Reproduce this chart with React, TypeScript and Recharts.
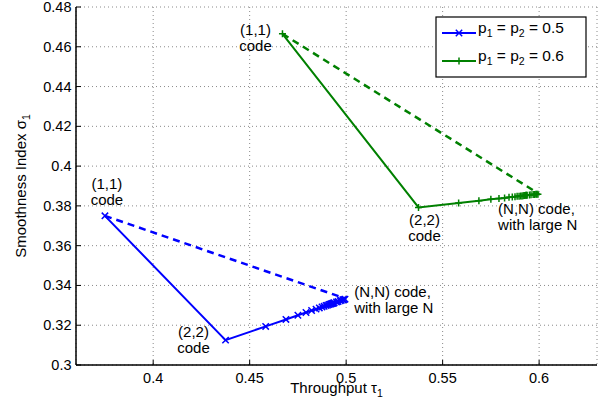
import React from 'react';
import { ScatterChart, Scatter, XAxis, YAxis, CartesianGrid, ReferenceDot, Label } from 'recharts';

// Code length N for each plotted point
const codeN = [1, 2, 3, 4, 5, 6, 7, 8, 9, 10, 11, 12, 13, 14, 15, 16, 17, 18, 19, 20, 25, 30, 40, 50, 75, 100, 200];

// p1 = p2 = 0.5
const blueTau = [0.375, 0.4375, 0.4583, 0.4688, 0.475, 0.4792, 0.4821, 0.4844, 0.4861, 0.4875, 0.4886, 0.4896, 0.4904, 0.4911, 0.4917, 0.4922, 0.4926, 0.4931, 0.4934, 0.4938, 0.495, 0.4958, 0.4969, 0.4975, 0.4983, 0.4988, 0.4994];
const blueSigma = [0.375, 0.3125, 0.3194, 0.3229, 0.325, 0.3264, 0.3274, 0.3281, 0.3287, 0.3292, 0.3295, 0.3299, 0.3301, 0.3304, 0.3306, 0.3307, 0.3309, 0.331, 0.3311, 0.3313, 0.3317, 0.3319, 0.3323, 0.3325, 0.3328, 0.3329, 0.3331];

// p1 = p2 = 0.6
const greenTau = [0.467, 0.5375, 0.5583, 0.5688, 0.575, 0.5792, 0.5821, 0.5844, 0.5861, 0.5875, 0.5886, 0.5896, 0.5904, 0.5911, 0.5917, 0.5922, 0.5926, 0.5931, 0.5934, 0.5938, 0.595, 0.5958, 0.5969, 0.5975, 0.5983, 0.5988, 0.5994];
const greenSigma = [0.4665, 0.3792, 0.3815, 0.3826, 0.3833, 0.3837, 0.384, 0.3843, 0.3845, 0.3846, 0.3848, 0.3849, 0.385, 0.385, 0.3851, 0.3852, 0.3852, 0.3853, 0.3853, 0.3853, 0.3855, 0.3856, 0.3857, 0.3857, 0.3858, 0.3859, 0.3859];

// (1,1) code and large-N limit, joined by the dashed lines
const blueDashTau = [0.375, 0.5];
const blueDashSigma = [0.375, 0.3333];
const greenDashTau = [0.467, 0.6];
const greenDashSigma = [0.4665, 0.386];

const xTicks = [0.4, 0.45, 0.5, 0.55, 0.6];
const yTicks = [0.3, 0.32, 0.34, 0.36, 0.38, 0.4, 0.42, 0.44, 0.46, 0.48];
const xDomain = [0.36, 0.63];
const yDomain = [0.3, 0.48];

const legendLabels = [['p', '1', ' = p', '2', ' = 0.5'], ['p', '1', ' = p', '2', ' = 0.6']];

const zip = (xs: number[], ys: number[]) => xs.map((x, i) => ({ x, y: ys[i] }));
const blueData = codeN.map((n, i) => ({ n, x: blueTau[i], y: blueSigma[i] }));
const greenData = codeN.map((n, i) => ({ n, x: greenTau[i], y: greenSigma[i] }));
const blueDash = zip(blueDashTau, blueDashSigma);
const greenDash = zip(greenDashTau, greenDashSigma);

const BLUE = '#0000ff';
const GREEN = '#008000';
const FONT = '"Liberation Sans", Arial, Helvetica, sans-serif';
const TICK_FS = 14.5;
const ANN_FS = 15;

const XMarker = (props: any) => {
  const { cx, cy } = props;
  const s = 3.2;
  return <path d={`M${cx - s},${cy - s}L${cx + s},${cy + s}M${cx - s},${cy + s}L${cx + s},${cy - s}`} stroke={BLUE} strokeWidth={1.5} fill="none" />;
};
const PlusMarker = (props: any) => {
  const { cx, cy } = props;
  const s = 3.5;
  return <path d={`M${cx - s},${cy}L${cx + s},${cy}M${cx},${cy - s}L${cx},${cy + s}`} stroke={GREEN} strokeWidth={1.5} fill="none" />;
};
const NoMarker = () => <g />;

const BottomTick = (props: any) => {
  const { x, y, payload } = props;
  return (
    <g>
      <line x1={x} y1={y} x2={x} y2={y - 5} stroke="#000" strokeWidth={1} />
      <text x={x} y={y + 18} textAnchor="middle" fontSize={TICK_FS} fontFamily={FONT} fill="#000">{payload.value}</text>
    </g>
  );
};
const LeftTick = (props: any) => {
  const { x, y, payload } = props;
  return (
    <g>
      <line x1={x} y1={y} x2={x + 5} y2={y} stroke="#000" strokeWidth={1} />
      <text x={x - 4.5} y={y + 5} textAnchor="end" fontSize={TICK_FS} fontFamily={FONT} fill="#000">{payload.value}</text>
    </g>
  );
};
const TopTick = (props: any) => {
  const { x, y } = props;
  return <line x1={x} y1={y} x2={x} y2={y + 5} stroke="#000" strokeWidth={1} />;
};
const RightTick = (props: any) => {
  const { x, y } = props;
  return <line x1={x} y1={y} x2={x - 5} y2={y} stroke="#000" strokeWidth={1} />;
};

const annotation = (lines: string[], dx: number, dy: number, anchor: string) => (props: any) => {
  const { cx, cy } = props;
  return (
    <g>
      {lines.map((t, i) => (
        <text key={i} x={cx + dx} y={cy + dy + i * 16} textAnchor={anchor} fontSize={ANN_FS} fontFamily={FONT} fill="#000">{t}</text>
      ))}
    </g>
  );
};

const Legend = () => (
  <svg width={152} height={62} style={{ position: 'absolute', left: 435, top: 16 }}>
    <rect x={1} y={1} width={150} height={60} fill="#fff" stroke="#000" strokeWidth={1.2} />
    {legendLabels.map((parts, i) => {
      const y = 17 + i * 28;
      const color = i === 0 ? BLUE : GREEN;
      return (
        <g key={i}>
          <line x1={7} y1={y} x2={41} y2={y} stroke={color} strokeWidth={2} />
          {i === 0 ? <XMarker cx={24} cy={y} /> : <PlusMarker cx={24} cy={y} />}
          <text x={43} y={y} fontSize={15.5} fontFamily={FONT} fill="#000">
            <tspan>{parts[0]}</tspan>
            <tspan dy={4} fontSize={10.5}>{parts[1]}</tspan>
            <tspan dy={-4}>{parts[2]}</tspan>
            <tspan dy={4} fontSize={10.5}>{parts[3]}</tspan>
            <tspan dy={-4}>{parts[4]}</tspan>
          </text>
        </g>
      );
    })}
  </svg>
);

export default function App() {
  return (
    <div style={{ position: 'absolute', left: 0, top: 0, width: 607, height: 405, background: '#fff' }}>
      <ScatterChart width={607} height={405} margin={{ top: 7, right: 10, bottom: 0, left: 0 }}>
        <CartesianGrid stroke="#8a8a8a" strokeDasharray="1 3" strokeWidth={1} />
        <XAxis type="number" dataKey="x" domain={xDomain} ticks={xTicks} allowDataOverflow height={40}
          axisLine={{ stroke: '#000', strokeWidth: 1.5 }} tickLine={false} tickSize={0} tickMargin={0} interval={0} tick={<BottomTick />}>
          <Label content={(p: any) => {
            const vb = p.viewBox;
            return (
              <text x={vb.x + vb.width / 2} y={vb.y + 28} textAnchor="middle" fontSize={15} fontFamily={FONT} fill="#000">
                <tspan>Throughput τ</tspan><tspan dy={4} fontSize={10.5}>1</tspan>
              </text>
            );
          }} />
        </XAxis>
        <XAxis xAxisId="top" orientation="top" type="number" dataKey="x" domain={xDomain} ticks={xTicks} allowDataOverflow height={0}
          axisLine={{ stroke: '#000', strokeWidth: 1.5 }} tickLine={false} tickSize={0} tickMargin={0} interval={0} tick={<TopTick />} />
        <YAxis type="number" dataKey="y" domain={yDomain} ticks={yTicks} allowDataOverflow width={76}
          axisLine={{ stroke: '#000', strokeWidth: 1.5 }} tickLine={false} tickSize={0} tickMargin={0} interval={0} tick={<LeftTick />}>
          <Label content={(p: any) => {
            const vb = p.viewBox;
            const cx = vb.x + 26;
            const cy = vb.y + vb.height / 2;
            return (
              <text x={cx} y={cy} transform={`rotate(-90, ${cx}, ${cy})`} textAnchor="middle" fontSize={15} fontFamily={FONT} fill="#000">
                <tspan>Smoothness Index σ</tspan><tspan dy={4} fontSize={10.5}>1</tspan>
              </text>
            );
          }} />
        </YAxis>
        <YAxis yAxisId="right" orientation="right" type="number" dataKey="y" domain={yDomain} ticks={yTicks} allowDataOverflow width={0}
          axisLine={{ stroke: '#000', strokeWidth: 1.5 }} tickLine={false} tickSize={0} tickMargin={0} interval={0} tick={<RightTick />} />

        <Scatter data={blueDash} line={{ stroke: BLUE, strokeWidth: 2.5, strokeDasharray: '7 5' }} shape={NoMarker} isAnimationActive={false} />
        <Scatter data={greenDash} line={{ stroke: GREEN, strokeWidth: 2.5, strokeDasharray: '7 5' }} shape={NoMarker} isAnimationActive={false} />
        <Scatter data={blueData} line={{ stroke: BLUE, strokeWidth: 2 }} shape={XMarker} isAnimationActive={false} />
        <Scatter data={greenData} line={{ stroke: GREEN, strokeWidth: 2 }} shape={PlusMarker} isAnimationActive={false} />

        <ReferenceDot x={blueTau[0]} y={blueSigma[0]} r={0} shape={annotation(['(1,1)', 'code'], 2, -27, 'middle')} />
        <ReferenceDot x={blueTau[1]} y={blueSigma[1]} r={0} shape={annotation(['(2,2)', 'code'], -32, -3, 'middle')} />
        <ReferenceDot x={blueDashTau[1]} y={blueDashSigma[1]} r={0} shape={annotation(['(N,N) code,', 'with large N'], 8, -2, 'start')} />
        <ReferenceDot x={greenTau[0]} y={greenSigma[0]} r={0} shape={annotation(['(1,1)', 'code'], -27, 1, 'middle')} />
        <ReferenceDot x={greenTau[1]} y={greenSigma[1]} r={0} shape={annotation(['(2,2)', 'code'], 6, 18, 'middle')} />
        <ReferenceDot x={greenDashTau[1]} y={greenDashSigma[1]} r={0} shape={annotation(['(N,N) code,', 'with large N'], -41, 20, 'start')} />
      </ScatterChart>
      <Legend />
    </div>
  );
}
